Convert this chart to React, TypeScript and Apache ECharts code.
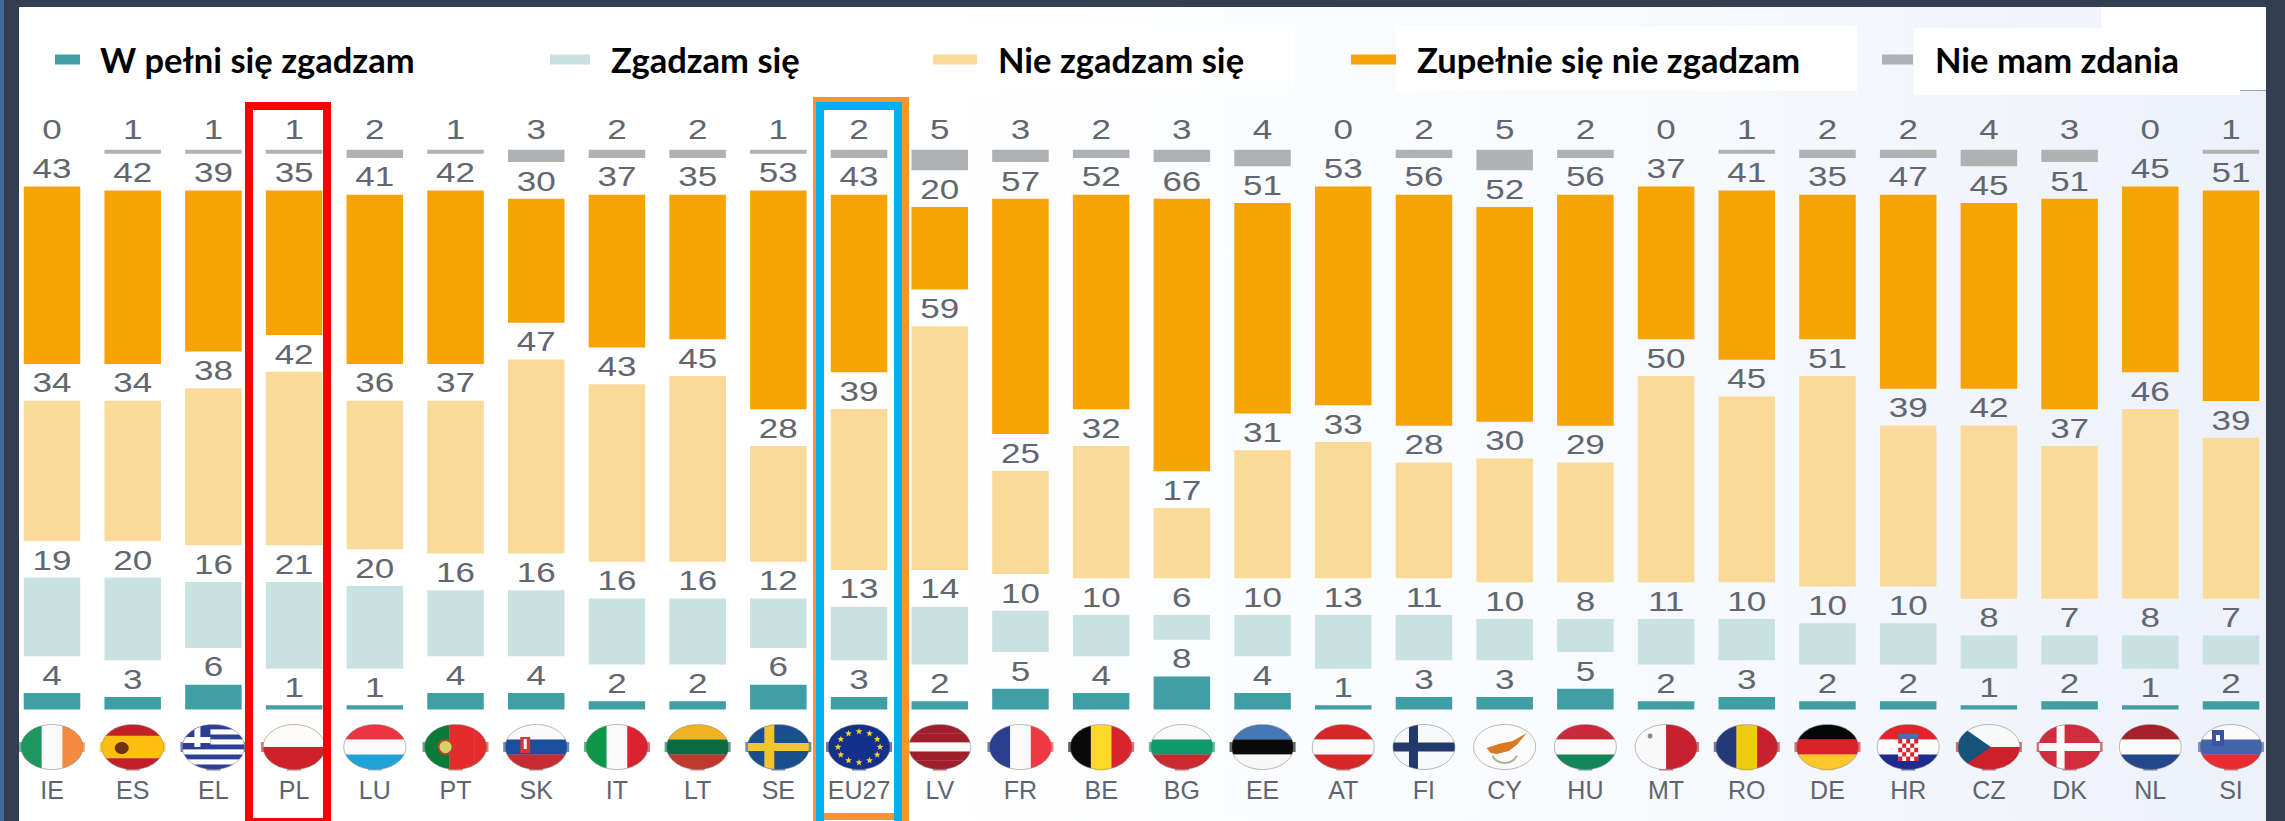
import React, { useEffect, useRef } from "react";
import * as echarts from "echarts";

const countries = ["IE","ES","EL","PL","LU","PT","SK","IT","LT","SE","EU27","LV","FR","BE","BG","EE","AT","FI","CY","HU","MT","RO","DE","HR","CZ","DK","NL","SI"];
const stronglyAgree = [4,3,6,1,1,4,4,2,2,6,3,2,5,4,8,4,1,3,3,5,2,3,2,2,1,2,1,2];
const agree = [19,20,16,21,20,16,16,16,16,12,13,14,10,10,6,10,13,11,10,8,11,10,10,10,8,7,8,7];
const disagree = [34,34,38,42,36,37,47,43,45,28,39,59,25,32,17,31,33,28,30,29,50,45,51,39,42,37,46,39];
const stronglyDisagree = [43,42,39,35,41,42,30,37,35,53,43,20,57,52,66,51,53,56,52,56,37,41,35,47,45,51,45,51];
const noOpinion = [0,1,1,1,2,1,3,2,2,1,2,5,3,2,3,4,0,2,5,2,0,1,2,2,4,3,0,1];

const seriesNames = ["W pełni się zgadzam","Zgadzam się","Nie zgadzam się","Zupełnie się nie zgadzam","Nie mam zdania"];
const seriesColors = ["#3F9FA5","#C7E2E1","#FADA98","#F6A303","#B0B1B3"];
const seriesValues = [stronglyAgree, agree, disagree, stronglyDisagree, noOpinion];

// Flag stripes: direction and colours
const flagStripes: Record<string, [string, string[]]> = {
  IE: ["v", ["#1E9660","#FAFAFA","#F58A42"]],
  ES: ["h", ["#C12126","#FCBF12","#FCBF12","#C12126"]],
  EL: ["h", ["#2D3F94","#FFFFFF","#2D3F94","#FFFFFF","#2D3F94","#FFFFFF","#2D3F94","#FFFFFF","#2D3F94"]],
  PL: ["h", ["#FDFBF8","#CE2029"]],
  LU: ["h", ["#EF3340","#FAFAFA","#21A3D9"]],
  PT: ["v", ["#0A7A3A","#0A7A3A","#E42C2A","#E42C2A","#E42C2A"]],
  SK: ["h", ["#FAFAFA","#1A4F9C","#C52B30"]],
  IT: ["v", ["#0E9648","#FAFAFA","#D9232E"]],
  LT: ["h", ["#F1B220","#0A6A44","#BE3A2F"]],
  SE: ["h", ["#1A4F8F"]],
  EU27: ["h", ["#12308C"]],
  LV: ["h", ["#A01F2D","#A01F2D","#FAFAFA","#A01F2D","#A01F2D"]],
  FR: ["v", ["#2B3F8E","#FAFAFA","#EE3A43"]],
  BE: ["v", ["#0A0A0A","#FFD925","#D9252E"]],
  BG: ["h", ["#FAFAFA","#0E9A6B","#C9292F"]],
  EE: ["h", ["#4477B5","#0A0A0A","#F7F7F7"]],
  AT: ["h", ["#D62828","#FAFAFA","#D62828"]],
  FI: ["h", ["#F8F9FB"]],
  CY: ["h", ["#FBFBFB"]],
  HU: ["h", ["#CC2A3A","#FAFAFA","#13855A"]],
  MT: ["v", ["#F9F9F9","#C8202E"]],
  RO: ["v", ["#243A78","#F1CC0E","#C8202E"]],
  DE: ["h", ["#050505","#DA2128","#FFC72C"]],
  HR: ["h", ["#E8212B","#FAFAFA","#1D2A8F"]],
  CZ: ["h", ["#F9F9F9","#CE2029"]],
  DK: ["h", ["#D22B3E"]],
  NL: ["h", ["#A6202C","#FAFAFA","#23488A"]],
  SI: ["h", ["#FAFAFA","#4264AB","#EA2B31"]],
};

const GAP_UNITS = 8.9;
const RX = 31;
const RY = 22.5;

function emblem(code: string): any[] {
  const rect = (x: number, y: number, width: number, height: number, fill: string) => ({ type: "rect", shape: { x, y, width, height }, style: { fill } });
  switch (code) {
    case "ES":
      return [{ type: "ellipse", shape: { cx: -11, cy: 1, rx: 7, ry: 6 }, style: { fill: "#6E3216" } }];
    case "EL":
      return [rect(-31, -23, 28, 23, "#2D3F94"), rect(-19, -23, 6, 23, "#FFF"), rect(-31, -10, 28, 6, "#FFF")];
    case "PT":
      return [{ type: "circle", shape: { cx: -10, cy: 0, r: 7 }, style: { fill: "#D9D06A", stroke: "#B8442A", lineWidth: 2 } }];
    case "SK":
      return [rect(-16, -10, 10, 16, "#D8343A"), rect(-12.5, -8, 3, 10, "#FFF")];
    case "SE":
      return [rect(-14, -23, 10, 46, "#F2C52F"), rect(-31, -4, 62, 8, "#F2C52F")];
    case "FI":
      return [rect(-15, -23, 9, 46, "#24396B"), rect(-31, -4.5, 62, 9, "#24396B")];
    case "DK":
      return [rect(-13, -23, 8, 46, "#FAFAFA"), rect(-31, -4, 62, 8, "#FAFAFA")];
    case "CZ":
      return [{ type: "polygon", shape: { points: [[-31, -23], [2, 0], [-31, 23]] }, style: { fill: "#16527A" } }];
    case "MT":
      return [{ type: "circle", shape: { cx: -16, cy: -11, r: 2.5 }, style: { fill: "#8A8A8A" } }];
    case "SI":
      return [rect(-19, -17, 12, 16, "#3A55A0"), rect(-15, -12, 4, 6, "#FFF")];
    case "CY":
      return [
        { type: "polygon", shape: { points: [[-18, 1], [-6, -3], [8, -6], [22, -14], [12, -2], [4, 4], [-8, 7], [-14, 6]] }, style: { fill: "#DA7A1E" } },
        { type: "arc", shape: { cx: 0, cy: 2, r: 14, startAngle: 0.5, endAngle: 2.64 }, style: { stroke: "#A9B98C", lineWidth: 2, fill: "none" } },
      ];
    case "HR": {
      const cells: any[] = [rect(-10, -8, 20, 22, "#FFF")];
      for (let r = 0; r < 5; r++) for (let c = 0; c < 5; c++) if ((r + c) % 2 === 0) cells.push(rect(-10 + c * 4, -8 + r * 4.4, 4, 4.4, "#D8242E"));
      cells.push(rect(-10, -13, 20, 5, "#4A6DB5"));
      return cells;
    }
    case "EU27": {
      const stars: any[] = [];
      for (let k = 0; k < 12; k++) {
        const a = (k * Math.PI) / 6;
        const cx = 21 * Math.cos(a);
        const cy = 15.5 * Math.sin(a);
        const pts: number[][] = [];
        for (let p = 0; p < 10; p++) {
          const rad = p % 2 === 0 ? 3.6 : 1.5;
          const t = -Math.PI / 2 + (p * Math.PI) / 5;
          pts.push([cx + rad * Math.cos(t), cy + rad * Math.sin(t)]);
        }
        stars.push({ type: "polygon", shape: { points: pts }, style: { fill: "#F5D327" } });
      }
      return stars;
    }
    default:
      return [];
  }
}

function flagChildren(code: string): any[] {
  const [dir, colors] = flagStripes[code];
  const n = colors.length;
  const stripes = colors.map((fill, k) =>
    dir === "h"
      ? { type: "rect", shape: { x: -RX, y: -RY + (k * 2 * RY) / n, width: 2 * RX, height: (2 * RY) / n + 0.3 }, style: { fill } }
      : { type: "rect", shape: { x: -RX + (k * 2 * RX) / n, y: -RY, width: (2 * RX) / n + 0.3, height: 2 * RY }, style: { fill } }
  );
  // Small tabs that stick out of the round flag at its sides and bottom
  const mid = colors[Math.floor(n / 2)];
  const leftTab = dir === "v" ? colors[0] : mid;
  const rightTab = dir === "v" ? colors[n - 1] : mid;
  const bottomTab = dir === "h" ? colors[n - 1] : mid;
  const tab = (x: number, y: number, width: number, height: number, fill: string) => ({
    type: "rect", shape: { x, y, width, height }, style: { fill, opacity: 0.65 },
  });
  return [
    tab(-RX - 2, -5, 4, 10, leftTab),
    tab(RX - 2, -5, 4, 10, rightTab),
    tab(-7, RY - 2, 14, 3, bottomTab),
    { type: "group", clipPath: { type: "ellipse", shape: { cx: 0, cy: 0, rx: RX, ry: RY } }, children: [...stripes, ...emblem(code)] },
    { type: "ellipse", shape: { cx: 0, cy: 0, rx: RX, ry: RY }, style: { fill: "none", stroke: "rgba(130,130,130,0.55)", lineWidth: 1 } },
  ];
}

function buildLabels() {
  const items: { i: number; y: number; text: string; extra: number }[] = [];
  countries.forEach((_, i) => {
    let base = 0;
    seriesValues.forEach((vals, s) => {
      const top = base + vals[i];
      items.push({ i, y: top, text: String(vals[i]), extra: s === 4 ? 20 : 18 });
      base = top + GAP_UNITS;
    });
  });
  return items;
}

export default function App() {
  const ref = useRef<HTMLDivElement>(null);
  useEffect(() => {
    const chart = echarts.init(ref.current!, null, { renderer: "svg" });
    const labels = buildLabels();
    const bars: any[] = [];
    seriesNames.forEach((name, s) => {
      bars.push({
        name,
        type: "bar",
        stack: "total",
        barWidth: 56.5,
        data: seriesValues[s],
        itemStyle: { color: seriesColors[s] },
        silent: true,
      });
      if (s < seriesNames.length - 1) {
        bars.push({
          name: "spacer" + s,
          type: "bar",
          stack: "total",
          barWidth: 56.5,
          data: countries.map(() => GAP_UNITS),
          itemStyle: { color: "transparent" },
          silent: true,
        });
      }
    });
    const legendPlaces = [
      { left: 55, icon: 25, pad: 15, nudge: 0 },
      { left: 550, icon: 40, pad: 16, nudge: 0 },
      { left: 933, icon: 44, pad: 16, nudge: 0 },
      { left: 1351, icon: 45, pad: 16, nudge: 0 },
      { left: 1882, icon: 31, pad: 17, nudge: 4 },
    ];
    const panel = (x: number, y: number, width: number, height: number, fill: any, z = -5) => ({
      type: "rect", shape: { x, y, width, height }, style: { fill }, z, silent: true,
    });
    chart.setOption({
      animation: false,
      backgroundColor: "#FFFFFF",
      grid: { left: 11.65, right: 13.65, top: 131.5, bottom: 111.5, containLabel: false },
      xAxis: {
        type: "category",
        data: countries,
        axisLine: { show: false },
        axisTick: { show: false },
        axisLabel: { interval: 0, margin: 68, fontSize: 25, fontFamily: "Liberation Sans", color: "#5F6470" },
      },
      yAxis: { type: "value", min: 0, max: 140, show: false },
      legend: legendPlaces.map((p, k) => ({
        left: p.left,
        top: 42,
        padding: 0,
        selectedMode: false,
        itemWidth: p.icon,
        itemHeight: 10,
        icon: "rect",
        data: [seriesNames[k]],
        textStyle: { fontFamily: "Lato", fontWeight: "bold", fontSize: 34.5, color: "#000000", padding: [p.nudge, 0, 0, p.pad] },
      })),
      graphic: {
        elements: [
          panel(0, 0, 2285, 821, "#FFFFFF", -9),
          panel(19, 7, 2247, 814, new echarts.graphic.LinearGradient(0, 0, 1, 0, [
            { offset: 0, color: "#FFFFFF" },
            { offset: 0.35, color: "#FFFFFF" },
            { offset: 0.7, color: "#F8FAFD" },
            { offset: 1, color: "#EDF1FA" },
          ])),
          panel(930, 25, 365, 64, "#FFFFFF", -4),
          panel(1396, 26, 461, 65, "#FFFFFF", -4),
          panel(1914, 28, 326, 67, "#FFFFFF", -4),
          panel(2101, 6, 165, 85, "#FFFFFF", -4),
          panel(2240, 90, 26, 1, "#9AA0AC", -4),
          panel(0, 0, 2285, 7, "#333F50", 20),
          panel(0, 0, 4, 821, "#3E6A9C", 20),
          panel(4, 0, 15, 821, "#333F50", 20),
          panel(2266, 0, 19, 821, "#333F50", 20),
          // EU27 highlight
          panel(813, 97, 96, 5, "#F79431", 10),
          panel(813, 97, 3, 724, "#F79431", 10),
          panel(902, 97, 7, 724, "#F79431", 10),
          panel(824, 813, 70, 7, "#F79431", 10),
          { type: "polyline", shape: { points: [[820, 821], [820, 106], [898, 106], [898, 821]] }, style: { stroke: "#00B0F0", lineWidth: 8, fill: "none" }, z: 11, silent: true },
          // PL highlight
          { type: "rect", shape: { x: 249, y: 106, width: 78, height: 716 }, style: { stroke: "#FF0000", lineWidth: 8, fill: "none" }, z: 11, silent: true },
        ],
      },
      series: [
        ...bars,
        {
          type: "custom",
          name: "labels",
          silent: true,
          z: 5,
          data: labels.map((l) => [l.i, l.y]),
          encode: { x: 0, y: 1 },
          renderItem: (params: any, api: any) => {
            const l = labels[params.dataIndex];
            const p = api.coord([l.i, l.y]);
            return {
              type: "text",
              x: p[0],
              y: p[1] - l.extra,
              scaleX: 1.25,
              style: {
                text: l.text,
                fontFamily: "Liberation Sans",
                fontSize: 28,
                fill: "#62666F",
                align: "center",
                verticalAlign: "middle",
              },
            };
          },
        },
        {
          type: "custom",
          name: "flags",
          silent: true,
          z: 5,
          data: countries.map((_, i) => [i, 0]),
          encode: { x: 0, y: 1 },
          renderItem: (params: any, api: any) => {
            const p = api.coord([params.dataIndex, 0]);
            return {
              type: "group",
              x: p[0],
              y: p[1] + 37.5,
              children: flagChildren(countries[params.dataIndex]),
            };
          },
        },
      ],
    });
    return () => chart.dispose();
  }, []);
  return <div ref={ref} style={{ position: "absolute", left: 0, top: 0, width: 2285, height: 821 }} />;
}
